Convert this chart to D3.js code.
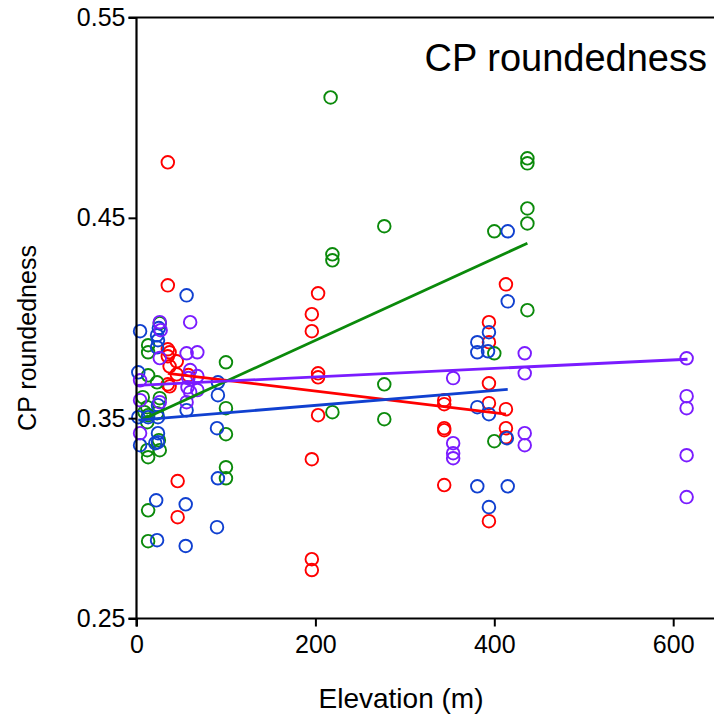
<!DOCTYPE html>
<html>
<head>
<meta charset="utf-8">
<script src="https://cdn.jsdelivr.net/npm/d3@7"></script>
<style>
body { margin: 0; background: #fff; }
text { font-family: Arial, "Liberation Sans", sans-serif; }
</style>
</head>
<body>
<div id="chart"></div>
<script>
// elevation (m) / roundedness pairs per group
const redX = [35,35,35,35,35,37,37,37,45,45,46,46,58,
              196,196,196,196,196,203,203,203,203,
              344,344,344,344,344,394,394,394,394,394,413,413,413,413];
const redY = [0.4777,0.4163,0.3844,0.3809,0.3669,0.3829,0.3759,0.3659,0.3784,0.3719,0.3186,0.3006,0.3715,
              0.4019,0.3934,0.3295,0.2796,0.2742,0.4123,0.3724,0.3704,0.3515,
              0.3590,0.3570,0.3450,0.3440,0.3166,0.3979,0.3879,0.3674,0.3575,0.2986,0.4168,0.3545,0.3450,0.3405];

const greenX = [26,13,13,13,23,7,26,12,9,13,23,12,26,12,13,13,13,25,
                100,100,100,100,100,217,219,219,219,277,277,277,400,400,400,437,437,437,437,437];
const greenY = [0.3974,0.3864,0.3829,0.3714,0.3679,0.3605,0.3600,0.3555,0.3530,0.3515,0.3525,0.3480,0.3340,0.3340,0.3305,0.3040,0.2886,0.3390,
                0.3779,0.3550,0.3420,0.3255,0.3200,0.5101,0.4318,0.4288,0.3530,0.4458,0.3669,0.3495,0.4433,0.3824,0.3385,0.4797,0.4772,0.4547,0.4472,0.4039];

const blueX = [4,56,23,24,23,25,2,91,91,24,56,2,13,24,90,24,24,4,21,22,55,90,23,55,91,
               394,381,381,393,381,394,414,415,415,381,415,394];
const blueY = [0.3934,0.4113,0.3914,0.3889,0.3854,0.3950,0.3729,0.3679,0.3615,0.3565,0.3540,0.3505,0.3505,0.3505,0.3450,0.3425,0.3380,0.3365,0.3375,0.3090,0.3070,0.2956,0.2891,0.2862,0.3200,
               0.3929,0.3879,0.3829,0.3834,0.3555,0.3520,0.3400,0.4433,0.4083,0.3160,0.3160,0.3056];

const purpleX = [26,27,60,26,56,68,4,60,68,58,57,60,68,4,26,56,4,
                 354,354,354,354,434,434,434,434,615,615,615,615,615];
const purpleY = [0.3979,0.3939,0.3979,0.3800,0.3824,0.3829,0.3689,0.3740,0.3710,0.3700,0.3654,0.3630,0.3640,0.3590,0.3580,0.3580,0.3425,
                 0.3700,0.3375,0.3325,0.3300,0.3824,0.3724,0.3425,0.3365,0.3799,0.3610,0.3550,0.3315,0.3106];

// fitted trend lines: [x0, y0, x1, y1]
const redFit = [35, 0.3724, 413, 0.3520];
const greenFit = [5, 0.3490, 437, 0.4373];
const blueFit = [2, 0.3490, 415, 0.3644];
const purpleFit = [1, 0.3664, 616, 0.3794];

const xTicks = [0, 200, 400, 600];
const yTicks = [0.25, 0.35, 0.45, 0.55];

const groups = [
  {name: 'red', color: '#ff0000', xs: redX, ys: redY, fit: redFit},
  {name: 'green', color: '#0b8a0b', xs: greenX, ys: greenY, fit: greenFit},
  {name: 'blue', color: '#1040d0', xs: blueX, ys: blueY, fit: blueFit},
  {name: 'purple', color: '#7a1cff', xs: purpleX, ys: purpleY, fit: purpleFit}
];

const width = 714, height = 721;
const plotLeft = 136.5, plotTop = 17.5, plotBottom = 618.5;

const svg = d3.select('#chart')
  .append('svg')
  .attr('width', width)
  .attr('height', height);

let x = d3.scaleLinear().domain([0, 600]).range([plotLeft, 673.2]);
let y = d3.scaleLinear().domain([0.25, 0.55]).range([plotBottom, plotTop]);

// points
groups.forEach(g => {
  let pts = g.xs.map((v, i) => ({x: v, y: g.ys[i]}));
  svg.append('g')
    .selectAll('circle')
    .data(pts)
    .enter()
    .append('circle')
    .attr('cx', d => x(d.x))
    .attr('cy', d => y(d.y))
    .attr('r', 6.3)
    .style('fill', 'none')
    .style('stroke', g.color)
    .style('stroke-width', 1.9);
});

// trend lines
groups.forEach(g => {
  svg.append('line')
    .attr('x1', x(g.fit[0]))
    .attr('y1', y(g.fit[1]))
    .attr('x2', x(g.fit[2]))
    .attr('y2', y(g.fit[3]))
    .style('stroke', g.color)
    .style('stroke-width', 2.8);
});

// axes
let xAxis = d3.axisBottom(x).tickValues(xTicks).tickSize(8).tickPadding(9).tickFormat(d3.format('d'));
let yAxis = d3.axisLeft(y).tickValues(yTicks).tickSize(8).tickPadding(3).tickFormat(d3.format('.2f'));

let xg = svg.append('g')
  .attr('transform', 'translate(0,' + plotBottom + ')')
  .call(xAxis);
let yg = svg.append('g')
  .attr('transform', 'translate(' + plotLeft + ',0)')
  .call(yAxis);

[xg, yg].forEach(g => {
  g.select('.domain').remove();
  g.selectAll('line').style('stroke', '#000').style('stroke-width', 2);
  g.selectAll('text').style('font-size', '25px').style('fill', '#000');
});

svg.append('line')
  .attr('x1', plotLeft - 8).attr('x2', width)
  .attr('y1', plotBottom).attr('y2', plotBottom)
  .style('stroke', '#000').style('stroke-width', 2.2);
svg.append('line')
  .attr('x1', plotLeft).attr('x2', plotLeft)
  .attr('y1', plotTop).attr('y2', plotBottom + 8)
  .style('stroke', '#000').style('stroke-width', 2.2);
svg.append('line')
  .attr('x1', plotLeft - 8).attr('x2', width)
  .attr('y1', plotTop).attr('y2', plotTop)
  .style('stroke', '#000').style('stroke-width', 2.2);

// labels
svg.append('text')
  .attr('x', 401)
  .attr('y', 708)
  .style('text-anchor', 'middle')
  .style('font-size', '28px')
  .text('Elevation (m)');

svg.append('text')
  .attr('transform', 'translate(36,338) rotate(-90)')
  .style('text-anchor', 'middle')
  .style('font-size', '25px')
  .text('CP roundedness');

svg.append('text')
  .attr('x', 707)
  .attr('y', 71)
  .style('text-anchor', 'end')
  .style('font-size', '38px')
  .text('CP roundedness');
</script>
</body>
</html>
